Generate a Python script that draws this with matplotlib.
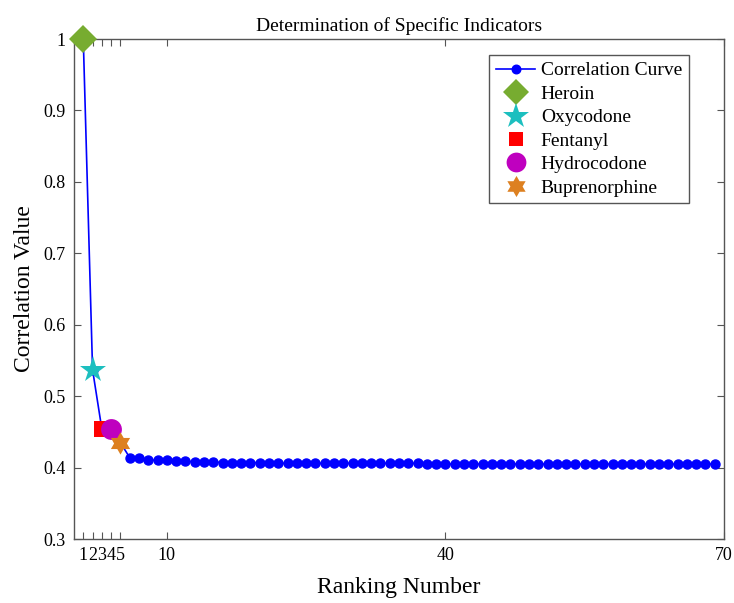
import numpy as np
import matplotlib.pyplot as plt
from matplotlib.path import Path

plt.rcParams['font.family'] = ['Liberation Serif', 'DejaVu Serif']

# correlation curve, ranks 1..69
corr_values = [1.0, 0.537, 0.454, 0.454, 0.435, 0.414, 0.413, 0.411, 0.410, 0.410,
               0.409, 0.409, 0.408, 0.408, 0.408, 0.407, 0.407, 0.407, 0.407, 0.407,
               0.407, 0.406, 0.406, 0.406, 0.406, 0.406, 0.406, 0.406, 0.406, 0.406,
               0.406, 0.406, 0.406, 0.406, 0.406, 0.406, 0.406, 0.405, 0.405, 0.405,
               0.405, 0.405, 0.405, 0.405, 0.405, 0.405, 0.405, 0.405, 0.405, 0.405,
               0.405, 0.405, 0.405, 0.405, 0.405, 0.405, 0.405, 0.405, 0.405, 0.405,
               0.405, 0.405, 0.405, 0.405, 0.405, 0.405, 0.405, 0.405, 0.405]
ranks = list(range(1, len(corr_values) + 1))

drug_names = ['Heroin', 'Oxycodone', 'Fentanyl', 'Hydrocodone', 'Buprenorphine']
drug_ranks = [1, 2, 3, 4, 5]
drug_values = [1.0, 0.537, 0.454, 0.454, 0.435]
drug_colors = ['#77AC30', '#1CBFBF', '#FF0000', '#BF00BF', '#DD8020']
drug_sizes = [14, 20, 11, 15, 16]

# six-pointed star (hexagram) marker, like MATLAB 'h'
ang = np.pi / 2 + np.arange(12) * np.pi / 6
rad = np.where(np.arange(12) % 2 == 0, 1.0, 0.577)
hexagram = Path(np.column_stack([rad * np.cos(ang), rad * np.sin(ang)]).tolist()
                + [[0.0, 1.0]], closed=True)
drug_markers = ['D', '*', 's', 'o', hexagram]

x_ticks = [1, 2, 3, 4, 5, 10, 40, 70]
x_ticklabels = ['1', '2', '3', '4', '5', '10', '40', '70']
y_ticks = [0.3, 0.4, 0.5, 0.6, 0.7, 0.8, 0.9, 1.0]
y_ticklabels = ['0.3', '0.4', '0.5', '0.6', '0.7', '0.8', '0.9', '1']

fig = plt.figure(figsize=(7.34, 6.03), dpi=100)
ax = fig.add_axes([0.1008, 0.1061, 0.8856, 0.8292])

ax.plot(ranks, corr_values, '-o', color='#0000FF', lw=1.2, markersize=6.5,
        label='Correlation Curve', zorder=2)
for name, xr, yv, m, c, s in zip(drug_names, drug_ranks, drug_values,
                                 drug_markers, drug_colors, drug_sizes):
    ax.plot([xr], [yv], linestyle='none', marker=m, color=c, markersize=s,
            markeredgewidth=0, label=name, zorder=3, clip_on=False)

ax.set_xlim(0, 70)
ax.set_ylim(0.3, 1.0)
ax.set_xticks(x_ticks)
ax.set_xticklabels(x_ticklabels)
ax.set_yticks(y_ticks)
ax.set_yticklabels(y_ticklabels)
ax.tick_params(direction='in', top=True, right=True, labelsize=13,
               length=5, color='#555555', pad=6)
for sp in ax.spines.values():
    sp.set_color('#555555')
    sp.set_linewidth(1.0)

ax.set_title('Determination of Specific Indicators', fontsize=14, pad=6)
ax.set_xlabel('Ranking Number', fontsize=17, labelpad=9)
ax.set_ylabel('Correlation Value', fontsize=17, labelpad=6)

leg = ax.legend(loc='upper right', fontsize=14, fancybox=False, framealpha=1,
                edgecolor='#555555', handlelength=2.0, handletextpad=0.3,
                borderpad=0.35, labelspacing=0.3, markerscale=0.95,
                borderaxespad=0, bbox_to_anchor=(0.946, 0.968))
leg.get_frame().set_linewidth(1.0)

fig.savefig('out.png', dpi=100)
